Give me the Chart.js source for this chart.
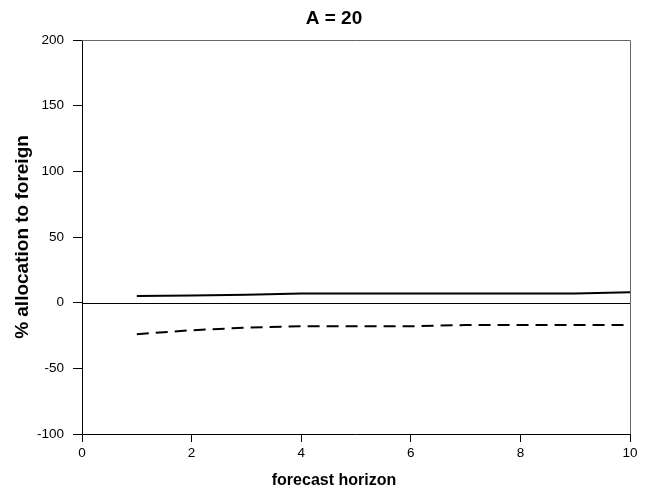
<!DOCTYPE html>
<html>
<head>
<meta charset="utf-8">
<script src="https://cdn.jsdelivr.net/npm/chart.js@4/dist/chart.umd.min.js"></script>
<style>
html,body{margin:0;padding:0;background:#fff;}
#wrap{width:655px;height:496px;position:relative;}
</style>
</head>
<body>
<div id="wrap"><canvas id="c" width="655" height="496"></canvas></div>
<script>
const horizons = [1, 2, 3, 4, 5, 6, 7, 8, 9, 10];
const solidSeries = [5, 5.5, 6, 7, 7, 7, 7, 7, 7, 8];
const dashedSeries = [-24, -21, -19, -18, -18, -18, -17, -17, -17, -17];
const titleText = 'A = 20';
const xTitle = 'forecast horizon';
const yTitle = '% allocation to foreign';

const FONT = 'Liberation Sans, Arial, sans-serif';

const framePlugin = {
  id: 'frame',
  beforeDatasetsDraw(chart) {
    const {ctx, chartArea: a, scales} = chart;
    ctx.save();
    ctx.strokeStyle = '#000';
    ctx.lineWidth = 1;
    const y0 = Math.round(scales.y.getPixelForValue(0)) + 0.5;
    ctx.beginPath();
    ctx.moveTo(a.left, y0);
    ctx.lineTo(a.right, y0);
    ctx.stroke();
    ctx.restore();
  },
  afterDraw(chart) {
    const {ctx, chartArea: a} = chart;
    ctx.save();
    ctx.strokeStyle = '#666';
    ctx.lineWidth = 1;
    ctx.beginPath();
    ctx.moveTo(a.left, a.top + 0.5);
    ctx.lineTo(a.right + 0.5, a.top + 0.5);
    ctx.lineTo(a.right + 0.5, a.bottom);
    ctx.stroke();
    ctx.fillStyle = '#000';
    ctx.textAlign = 'center';
    ctx.textBaseline = 'middle';
    // chart title
    ctx.font = 'bold 19px ' + FONT;
    ctx.fillText(titleText, 334, 19);
    // x axis title
    ctx.font = 'bold 16px ' + FONT;
    ctx.fillText(xTitle, 334, 481);
    ctx.restore();
  }
};

new Chart(document.getElementById('c'), {
  type: 'line',
  data: {
    datasets: [
      {
        data: horizons.map((h, i) => ({x: h, y: solidSeries[i]})),
        borderColor: '#000', borderWidth: 2, pointRadius: 0, tension: 0, fill: false
      },
      {
        data: horizons.map((h, i) => ({x: h, y: dashedSeries[i]})),
        borderColor: '#000', borderWidth: 2, borderDash: [12, 7], pointRadius: 0, tension: 0, fill: false
      }
    ]
  },
  options: {
    responsive: false,
    animation: false,
    layout: {padding: {left: 11, right: 25, top: 40, bottom: 35}},
    plugins: {
      legend: {display: false},
      tooltip: {enabled: false},
      title: {display: false}
    },
    scales: {
      x: {
        type: 'linear', min: 0, max: 10,
        afterFit(scale) { scale.height = 27; },
        ticks: {stepSize: 2, color: '#000', padding: 3, font: {family: FONT, size: 13.5}},
        grid: {display: true, drawOnChartArea: false, drawTicks: true, tickLength: 8, color: '#000'},
        border: {display: true, color: '#000', width: 1},
        title: {display: false}
      },
      y: {
        type: 'linear', min: -100, max: 200,
        afterFit(scale) { scale.width = 71; },
        ticks: {stepSize: 50, color: '#000', padding: 9, font: {family: FONT, size: 13.5}},
        grid: {display: true, drawOnChartArea: false, drawTicks: true, tickLength: 9, color: '#000'},
        border: {display: true, color: '#000', width: 1},
        title: {display: true, text: yTitle, color: '#000', padding: {top: 0, bottom: 0},
          font: {family: FONT, size: 19, weight: 'bold'}}
      }
    }
  },
  plugins: [framePlugin]
});
</script>
</body>
</html>
